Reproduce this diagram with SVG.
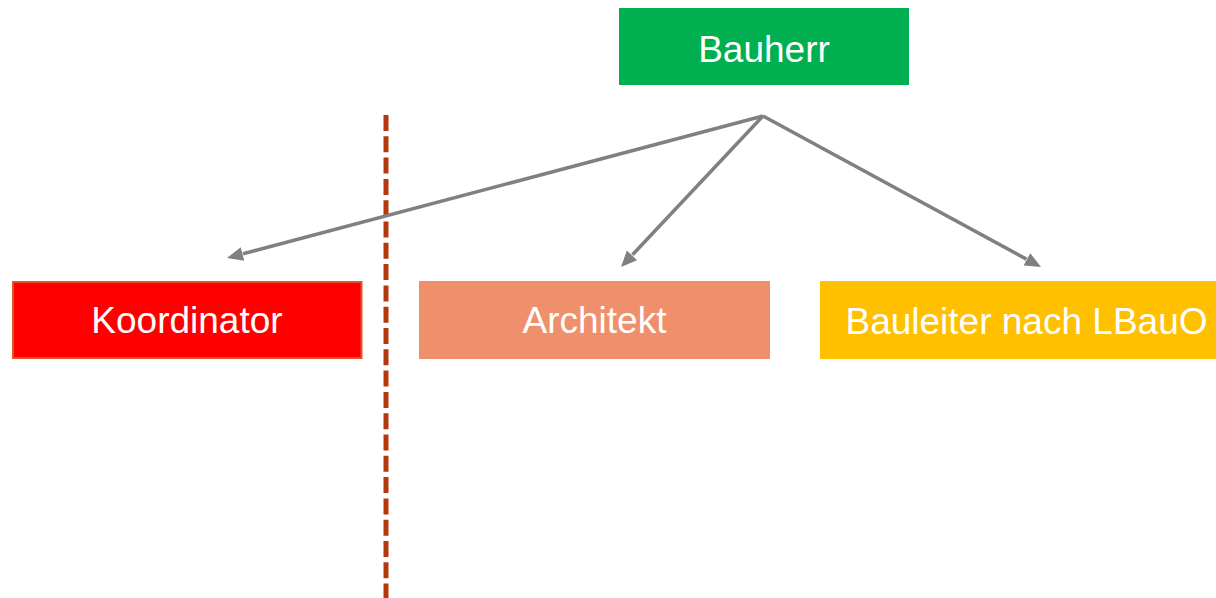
<svg xmlns="http://www.w3.org/2000/svg" width="1216" height="598" viewBox="0 0 1216 598">
<style>
.lbl{font-family:"Liberation Sans",Arial,sans-serif;font-size:37px;fill:#ffffff;text-anchor:middle}
.conn{stroke:#808080;stroke-width:3.5;fill:none}
.head{fill:#808080}
</style>
<rect width="1216" height="598" fill="#ffffff"/>
<line x1="386" y1="115" x2="386" y2="598" stroke="#B5380C" stroke-width="5" stroke-dasharray="16,5.3"/>
<g id="connectors">
<line class="conn" x1="763" y1="116" x2="243" y2="253.8"/>
<polygon class="head" points="227,258 244.26,260.67 240.68,247.13"/>
<line class="conn" x1="763" y1="116" x2="632.5" y2="254.8"/>
<polygon class="head" points="621,267 637.06,260.15 626.86,250.56"/>
<line class="conn" x1="763" y1="116" x2="1026.4" y2="259.1"/>
<polygon class="head" points="1041,267 1030.28,253.21 1023.60,265.51"/>
</g>
<g id="bauherr">
<rect x="619" y="8" width="290" height="77" fill="#00B050"/>
<text class="lbl" x="764" y="62">Bauherr</text>
</g>
<g id="koordinator">
<rect x="13" y="282" width="348.5" height="76" fill="#FF0000" stroke="#E0542A" stroke-width="2"/>
<text class="lbl" x="187" y="333">Koordinator</text>
</g>
<g id="architekt">
<rect x="419" y="281" width="351" height="78" fill="#F08F6C"/>
<text class="lbl" x="594.5" y="333">Architekt</text>
</g>
<g id="bauleiter">
<rect x="820" y="281" width="396" height="78" fill="#FFC000"/>
<text class="lbl" x="1026.5" y="334">Bauleiter nach LBauO</text>
</g>
</svg>
